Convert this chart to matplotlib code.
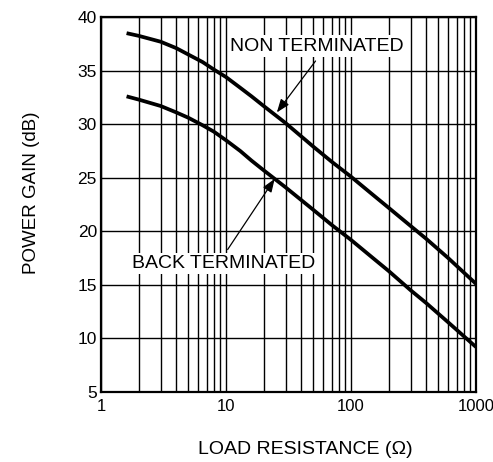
# Power gain vs. load resistance
# -----------------------------------------------------------------------------

import numpy as np
import matplotlib.pyplot as plt
from matplotlib.ticker import FixedLocator, NullFormatter, LogLocator


# Data
# -----------------------------------------------------------------------------

load_ohm = [1.6, 2, 3, 4, 5, 6.5, 8, 10, 13, 16, 20, 30, 50, 70, 100, 150,
            200, 300, 400, 600, 1000]
gain_non_term = [38.5, 38.25, 37.7, 37.1, 36.5, 35.8, 35.1, 34.4, 33.4,
                 32.6, 31.7, 30.1, 27.9, 26.5, 25.1, 23.4, 22.2, 20.5,
                 19.3, 17.5, 15.1]
gain_back_term = [32.6, 32.3, 31.7, 31.1, 30.6, 29.9, 29.3, 28.5, 27.5,
                  26.6, 25.7, 24.1, 22.0, 20.6, 19.2, 17.5, 16.3, 14.5,
                  13.3, 11.5, 9.2]

x_ticks = [1, 10, 100, 1000]
x_tick_labels = ["1", "10", "100", "1000"]
y_ticks = [5, 10, 15, 20, 25, 30, 35, 40]


# Plot
# -----------------------------------------------------------------------------

plt.rcParams['font.family'] = ['Liberation Sans', 'DejaVu Sans']

fig = plt.figure(figsize=(4.93, 4.62), dpi=100)
ax = fig.add_axes([0.205, 0.1515, 0.7605, 0.8115])

ax.set_xscale("log")
ax.set_xlim(1, 1000)
ax.set_ylim(5, 40)

ax.plot(load_ohm, gain_non_term, color="black", lw=2.7, solid_capstyle="butt", zorder=3)
ax.plot(load_ohm, gain_back_term, color="black", lw=2.7, solid_capstyle="butt", zorder=3)

# grid
ax.xaxis.set_major_locator(FixedLocator(x_ticks))
ax.set_xticklabels(x_tick_labels)
ax.xaxis.set_minor_locator(LogLocator(base=10, subs=np.arange(2, 10)))
ax.xaxis.set_minor_formatter(NullFormatter())
ax.set_yticks(y_ticks)
ax.grid(True, which="both", color="black", lw=1.0)
ax.tick_params(which="both", length=0, labelsize=12, pad=5)
ax.tick_params(axis="y", pad=3, labelsize=12.5)
for s in ax.spines.values():
    s.set_linewidth(1.6)

ax.set_xlabel("LOAD RESISTANCE (\u03a9)", fontsize=14)
ax.xaxis.set_label_coords(0.544, -0.131)
ax.set_ylabel("POWER GAIN (dB)", fontsize=13.5)
ax.yaxis.set_label_coords(-0.163, 0.531)

# labels with arrows
box = dict(facecolor="white", edgecolor="none", pad=1.5)
ax.text(53.5, 37.3, "NON TERMINATED", fontsize=14, ha="center", va="center",
        bbox=box, zorder=4)
ax.annotate("", xy=(25.5, 31.1), xytext=(52, 35.9),
            arrowprops=dict(arrowstyle="-|>,head_length=0.8,head_width=0.3",
                            color="black", lw=0.9, shrinkA=0, shrinkB=0),
            zorder=5)
ax.text(9.6, 17.0, "BACK TERMINATED", fontsize=14, ha="center", va="center",
        bbox=box, zorder=4)
ax.annotate("", xy=(24.5, 24.9), xytext=(10.3, 18.3),
            arrowprops=dict(arrowstyle="-|>,head_length=0.8,head_width=0.3",
                            color="black", lw=0.9, shrinkA=0, shrinkB=0),
            zorder=5)

fig.savefig("out.png", dpi=100)
